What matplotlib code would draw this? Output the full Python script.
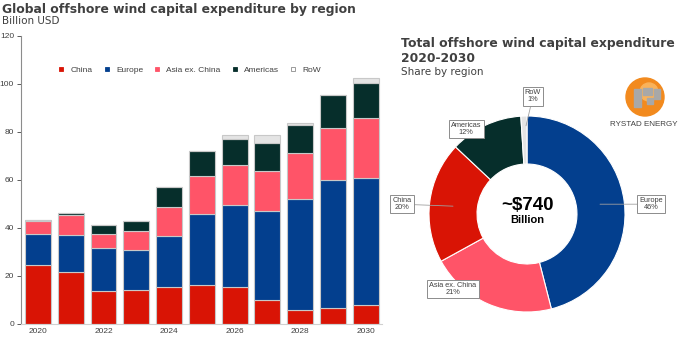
import numpy as np
import matplotlib
matplotlib.use("Agg")
import matplotlib.pyplot as plt
from matplotlib.lines import Line2D
from matplotlib.patches import Circle, Rectangle

# data (billion USD)
years = [2020, 2021, 2022, 2023, 2024, 2025, 2026, 2027, 2028, 2029, 2030]
china = [24.4, 21.4, 13.5, 13.9, 15.4, 16.0, 15.1, 9.9, 5.6, 6.7, 7.8]
europe = [12.8, 15.5, 18.0, 16.8, 21.3, 29.8, 34.2, 36.9, 46.5, 53.3, 53.0]
asia = [5.7, 8.5, 6.0, 7.8, 11.8, 15.6, 16.7, 17.0, 19.0, 21.4, 24.9]
americas = [0.1, 0.8, 3.5, 4.1, 8.6, 10.5, 11.1, 11.3, 11.5, 13.8, 14.7]
row = [0.0, 0.0, 0.0, 0.0, 0.0, 0.1, 1.4, 3.7, 1.2, 0.2, 1.8]
series_names = ["China", "Europe", "Asia ex. China", "Americas", "RoW"]
colors = ["#d91405", "#033f8e", "#ff5468", "#062e2b", "#e4e4e4"]

# donut shares, clockwise from 12 o'clock
pie_names = ["Europe", "Asia ex. China", "China", "Americas", "RoW"]
pie_shares = [46, 21, 20, 12, 1]
pie_colors = ["#033f8e", "#ff5468", "#d91405", "#062e2b", "#e4e4e4"]

W, H = 680, 338
fig = plt.figure(figsize=(6.8, 3.38), dpi=100)
plt.rcParams['font.family'] = ['Liberation Sans', 'DejaVu Sans']

def fx(px):
    return px / W

def fy(py):
    return (H - py) / H

# ---- left: stacked bars ----
ax = fig.add_axes([fx(21), fy(323.7), fx(382) - fx(21), fy(35.7) - fy(323.7)])
bottom = np.zeros(len(years))
for name, vals, c in zip(series_names, [china, europe, asia, americas, row], colors):
    ax.bar(years, vals, bottom=bottom, width=0.79, color=c,
           edgecolor="#c8c8c8", linewidth=0.8, label=name)
    bottom += np.array(vals)

ax.set_xlim(2019.48, 2030.5)
ax.set_ylim(0, 120)
ax.set_yticks(range(0, 121, 20))
ax.set_xticks(years[::2])
ax.tick_params(axis="y", labelsize=6, colors="#404040", length=3, width=0.6, pad=2)
ax.tick_params(axis="x", labelsize=6, colors="#404040", length=0, pad=3)
for s in ["top", "right"]:
    ax.spines[s].set_visible(False)
ax.spines["left"].set_color("#8c8c8c")
ax.spines["bottom"].set_color("#d0d0d0")
ax.spines["left"].set_linewidth(0.8)

handles = [Line2D([], [], marker="s", linestyle="none", markersize=3.5,
                  markerfacecolor=(c if n != "RoW" else "white"),
                  markeredgecolor=(c if n != "RoW" else "#8c8c8c"), markeredgewidth=0.6)
           for n, c in zip(series_names, colors)]
ax.legend(handles, series_names, ncol=5, loc="center", bbox_to_anchor=(0.46, 0.88),
          frameon=False, fontsize=6, handletextpad=0.1, columnspacing=0.7,
          labelcolor="#404040")

fig.text(fx(2), fy(9), "Global offshore wind capital expenditure by region",
         family="DejaVu Sans", fontweight="bold", fontsize=8.9, color="#404040",
         va="center", ha="left")
fig.text(fx(2), fy(21), "Billion USD", family="DejaVu Sans", fontsize=7.5,
         color="#404040", va="center", ha="left")

# ---- right: donut ----
R = 98
cx, cy = 527, 214
ax2 = fig.add_axes([fx(cx - R), fy(cy + R), 2 * R / W, 2 * R / H])
ax2.pie(pie_shares, colors=pie_colors, startangle=90, counterclock=False,
        radius=1.0, wedgeprops=dict(width=0.49, edgecolor="white", linewidth=0.8))
ax2.set_xlim(-1, 1)
ax2.set_ylim(-1, 1)
ax2.set_aspect("auto")
ax2.axis("off")

ax2.text(0, 0.09, "~$740", ha="center", va="center", fontsize=13.5,
         fontweight="bold", color="black")
ax2.text(0, -0.06, "Billion", ha="center", va="center", fontsize=8,
         fontweight="bold", color="black")

box = dict(boxstyle="square,pad=0.3", facecolor="white", edgecolor="#8c8c8c", linewidth=0.7)
label_pos = {
    "Europe": ((1.265, 0.10), (0.745, 0.10)),
    "Asia ex. China": ((-0.755, -0.765), None),
    "China": ((-1.276, 0.10), (-0.755, 0.08)),
    "Americas": ((-0.622, 0.867), None),
    "RoW": ((0.061, 1.20), (-0.01, 0.90)),
}
for n, s in zip(pie_names, pie_shares):
    (tx, ty), tip = label_pos[n]
    if tip is not None:
        ax2.annotate("", xy=tip, xytext=(tx, ty),
                     arrowprops=dict(arrowstyle="-", color="#a0a0a0", lw=0.6,
                                     shrinkA=8, shrinkB=0),
                     annotation_clip=False)
    ax2.text(tx, ty, f"{n}\n{s}%", ha="center", va="center", fontsize=5.3,
             color="#404040", bbox=box, linespacing=1.0, clip_on=False, zorder=5)

fig.text(fx(401), fy(50.5), "Total offshore wind capital expenditure\n2020-2030",
         family="DejaVu Sans", fontweight="bold", fontsize=8.9, color="#404040",
         va="center", ha="left", linespacing=1.2)
fig.text(fx(401), fy(72), "Share by region", family="DejaVu Sans", fontsize=7.5,
         color="#404040", va="center", ha="left")

# ---- logo ----
lax = fig.add_axes([fx(625), fy(117), fx(665) - fx(625), (117 - 77) / H])
lax.set_xlim(-1, 1)
lax.set_ylim(-1, 1)
lax.axis("off")
lax.add_patch(Circle((0, 0), 0.95, color="#f28a1e"))
lax.add_patch(Circle((0.2, 0.25), 0.45, color="#f9b25a"))
for (x0, y0, w, h) in [(-0.55, -0.5, 0.35, 0.9), (-0.1, 0.1, 0.45, 0.35),
                       (0.1, -0.35, 0.3, 0.3), (0.45, -0.1, 0.3, 0.5)]:
    lax.add_patch(Rectangle((x0, y0), w, h, color="#a8a8a8"))
lax.set_aspect("auto")
fig.text(fx(644), fy(125), "RYSTAD ENERGY", fontsize=5.8, color="#404040",
         ha="center", va="center")

fig.savefig("out.png", dpi=100)
